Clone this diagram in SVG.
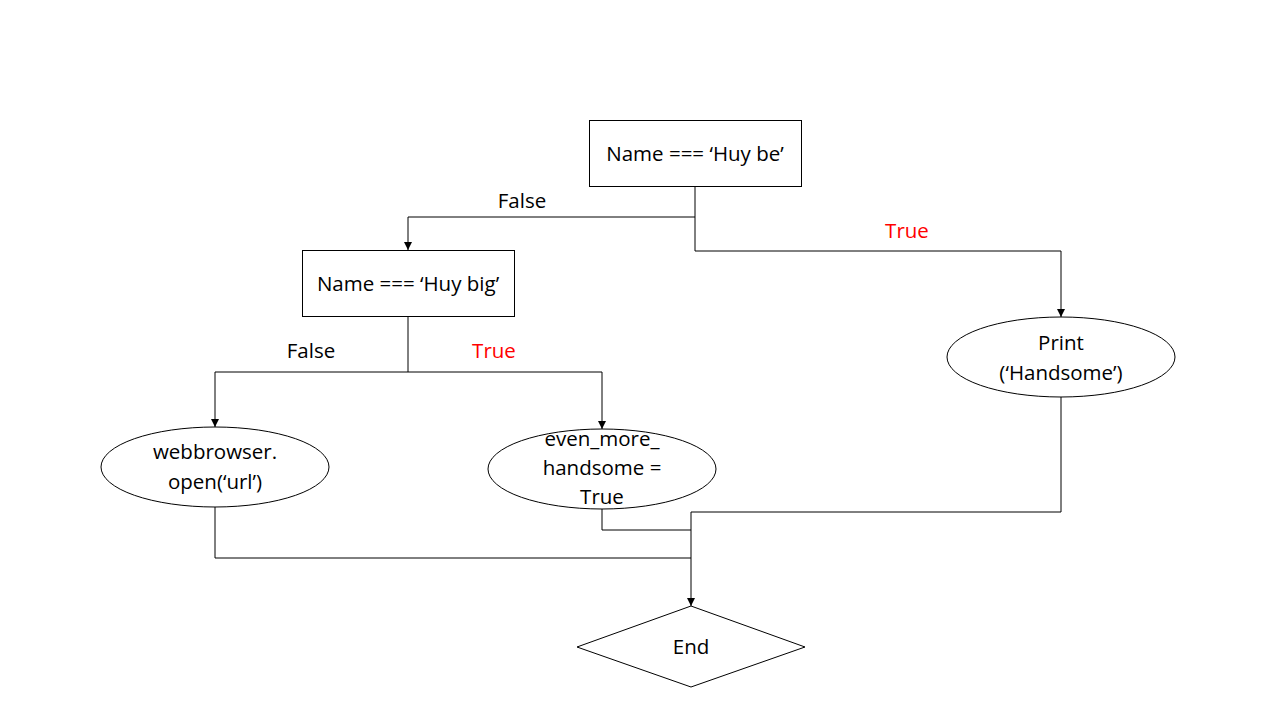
<svg xmlns="http://www.w3.org/2000/svg" width="1280" height="720" viewBox="0 0 1280 720">
  <style>
    .shape { fill: #ffffff; stroke: #000000; stroke-width: 1; }
    .wire { fill: none; stroke: #000000; stroke-width: 1; }
    .label { font-family: "Open Sans", "Liberation Sans", sans-serif; font-size: 20.5px; fill: #000000; text-anchor: middle; dominant-baseline: central; }
    .yes { fill: #ff0000; }
  </style>
  <defs>
    <marker id="arrow" viewBox="0 0 10 10" refX="10" refY="5" markerWidth="8" markerHeight="8" markerUnits="userSpaceOnUse" orient="auto">
      <path d="M0,0 L10,5 L0,10 z" fill="#000000"/>
    </marker>
  </defs>
  <rect width="1280" height="720" fill="#ffffff"/>

  <g id="connectors">
    <path class="wire" d="M695,186 V217 H408 V250" marker-end="url(#arrow)"/>
    <path class="wire" d="M695,217 V251 H1061 V317" marker-end="url(#arrow)"/>
    <path class="wire" d="M408,316 V372 H215 V427" marker-end="url(#arrow)"/>
    <path class="wire" d="M408,372 H602 V429" marker-end="url(#arrow)"/>
    <path class="wire" d="M1061,397 V512 H691 V606" marker-end="url(#arrow)"/>
    <path class="wire" d="M602,509 V530 H691"/>
    <path class="wire" d="M215,507 V558 H691"/>
    <text class="label" x="522" y="200">False</text>
    <text class="label yes" x="907" y="230">True</text>
    <text class="label" x="311" y="350">False</text>
    <text class="label yes" x="494" y="350">True</text>
  </g>

  <g id="check-huy-be">
    <rect class="shape" x="589.5" y="120.5" width="212" height="66"/>
    <text class="label" x="695" y="153">Name === ‘Huy be’</text>
  </g>

  <g id="check-huy-big">
    <rect class="shape" x="302.5" y="250.5" width="212" height="66"/>
    <text class="label" x="408" y="283">Name === ‘Huy big’</text>
  </g>

  <g id="print-handsome">
    <ellipse class="shape" cx="1061" cy="357" rx="114" ry="40"/>
    <text class="label" x="1061" y="342">Print</text>
    <text class="label" x="1061" y="372">(‘Handsome’)</text>
  </g>

  <g id="open-url">
    <ellipse class="shape" cx="215" cy="467" rx="114" ry="40"/>
    <text class="label" x="215" y="451">webbrowser.</text>
    <text class="label" x="215" y="481">open(‘url’)</text>
  </g>

  <g id="even-more-handsome">
    <ellipse class="shape" cx="602" cy="469" rx="114" ry="40"/>
    <text class="label" x="602" y="438">even_more_</text>
    <text class="label" x="602" y="467">handsome =</text>
    <text class="label" x="602" y="496">True</text>
  </g>

  <g id="end">
    <polygon class="shape" points="691,606 805,647 691,687 577,647"/>
    <text class="label" x="691" y="646">End</text>
  </g>
</svg>
